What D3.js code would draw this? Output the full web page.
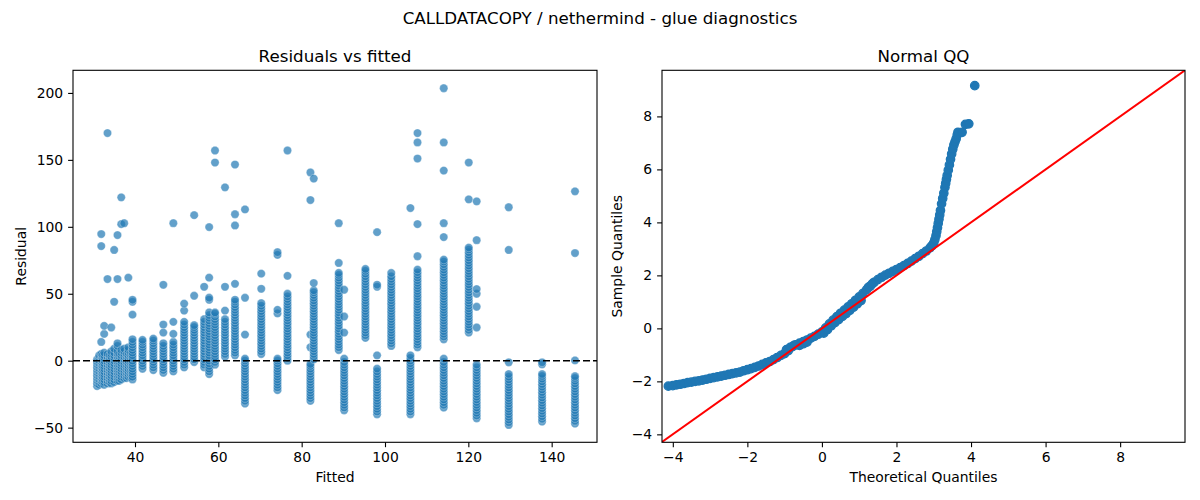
<!DOCTYPE html>
<html><head><meta charset="utf-8">
<script src="https://cdn.jsdelivr.net/npm/d3@7"></script>
<style>
body{margin:0;background:#fff}
text{font-family:"DejaVu Sans",sans-serif;fill:#000}
</style>
</head><body>
<svg id="c" width="1200" height="500"></svg>
<script>
// ---------- data ----------
const fittedLevels = [30.9,31.4,31.9,32.2,32.6,33.4,33.9,34.3,35.0,35.8,36.2,36.7,37.4,38.0,38.4,39.0,39.4,41.8,44.4,46.8,49.2,51.8,54.2,56.6,57.8,59.2,61.6,64.0,66.4,70.3,74.2,76.6,82.1,82.9,88.9,90.2,95.3,98.1,101.5,106.1,107.8,114.1,120.1,122.0,129.7,137.7,145.6];
const residualsByLevel = [
  [-19,-17,-15,-13,-11,-9,-7,-5,-3,-1,1],
  [-18,-16,-14,-12,-10,-8,-6,-4,-2,0,2,4],
  [-17,-15,-13,-11,-9,-7,-5,-3,-1,1,3,5,14,85.6,94.6],
  [-16,-14,-12,-10,-8,-6,-4,-2,0,2,4],
  [-18,-16,-14,-12,-10,-8,-6,-4,-2,0,2,4,6,20,26],
  [-17,-15,-13,-11,-9,-7,-5,-3,-1,1,3,5,61,170],
  [-16,-14,-12,-10,-8,-6,-4,-2,0,2,4],
  [-17,-15,-13,-11,-9,-7,-5,-3,-1,1,3,5,7,24.8],
  [-16,-14,-12,-10,-8,-6,-4,-2,0,2,4,6,9,44,82.7],
  [-15,-13,-11,-9,-7,-5,-3,-1,1,3,5,7,11,13,61,93.8],
  [-15,-13,-11,-9,-7,-5,-3,-1,1,3,5],
  [-14,-12,-10,-8,-6,-4,-2,0,2,4,6,8,102,122],
  [-13,-11,-9,-7,-5,-3,-1,1,3,5,7,9,102.7],
  [-13,-11,-9,-7,-5,-3,-1,1,3,5],
  [-12,-10,-8,-6,-4,-2,0,2,4,6,8,10,62],
  [-12,-10,-8,-6,-4,-2,0,2,4,6],
  [-14,-12,-10,-8,-6,-4,-2,0,2,4,6,8,10,12,14,16,34.4,44,45.5],
  [-6,-4,-2,0,2,4,6,8,10,12,14,15.5],
  [-7,-5,-3,-1,1,3,5,7,9,11,13,15,16.5],
  [-9,-7,-5,-3,-1,1,3,5,7,9,11,13,21,27,56.7],
  [-8,-6,-4,-2,0,2,4,6,8,10,12,14,20,29,102.7],
  [-5,-3,-1,1,3,5,7,9,11,13,15,17,19,21,23,25,27,29,37.4,42.6],
  [-1,1,3,5,7,9,11,13,15,17,19,21,23,25,26.5,48.5,108.7],
  [-5,-3,-1,1,3,5,7,9,11,13,15,17,19,21,23,25,27,29,31,55.2],
  [-10,-8,-6,-4,-2,0,2,4,6,8,10,12,14,16,18,20,22,24,26,28,30,32,34,36,45.5,47,62,99.8],
  [-3,-1,1,3,5,7,9,11,13,15,17,19,21,23,25,27,29,31,33,35,36,148,157],
  [3,5,7,9,11,13,15,17,19,21,23,25,27,29,31,37.4,55.2,129.5],
  [4,6,8,10,12,14,16,18,20,22,24,26,28,30,32,34,36,38,40,42,44,45.5,57.4,101,109.4,146.5],
  [-32,-30,-28,-26,-24,-22,-20,-18,-16,-14,-12,-10,-8,-6,-4,-2,0,1.5,19.5,47,113],
  [5,7,9,11,13,15,17,19,21,23,25,27,29,31,33,35,37,39,41,43,53.7,65],
  [-22,-20,-18,-16,-14,-12,-10,-8,-6,-4,-2,0,1.5,35.3,38,79,81],
  [0,2,4,6,8,10,12,14,16,18,20,22,24,26,28,30,32,34,36,38,40,42,44,46,48,50,63.4,157],
  [-30,-28,-26,-24,-22,-20,-18,-16,-14,-12,-10,-8,-6,-4,-2.5,10,19.5,120,140.6],
  [1,3,5,7,9,11,13,15,17,19,21,23,25,27,29,31,33,35,37,39,41,43,45,47,49,51,52.5,58,136],
  [8,10,12,14,16,18,20,22,24,26,28,30,32,34,36,38,40,42,44,46,48,50,52,54,56,58,60,62,64,65.5,73,102.7],
  [-37,-35,-33,-31,-29,-27,-25,-23,-21,-19,-17,-15,-13,-11,-9,-7,-5,-3,-1,1.5,21,33,53],
  [17,19,21,23,25,27,29,31,33,35,37,39,41,43,45,47,49,51,53,55,57,59,61,63,65,67,68.5],
  [-40,-38,-36,-34,-32,-30,-28,-26,-24,-22,-20,-18,-16,-14,-12,-10,-8,-6,4,55.2,56.7,96],
  [11,13,15,17,19,21,23,25,27,29,31,33,35,37,39,41,43,45,47,49,51,53,55,57,59,61,63,65.5],
  [-40,-38,-36,-34,-32,-30,-28,-26,-24,-22,-20,-18,-16,-14,-12,-10,-8,-6,-4,-2,0,2,4,114],
  [10,12,14,16,18,20,22,24,26,28,30,32,34,36,38,40,42,44,46,48,50,52,54,56,58,60,62,64,66,68,78,102,151,163,170],
  [-35,-33,-31,-29,-27,-25,-23,-21,-19,-17,-15,-13,-11,-9,-7,-5,-3,-1,1.5,16,18,20,22,24,26,28,30,32,34,36,38,40,42,44,46,48,50,52,54,56,58,60,62,64,66,68,70,72,74,75.5,92.3,102.7,142,163,203.5],
  [21,23,25,27,29,31,33,35,37,39,41,43,45,47,49,51,53,55,57,59,61,63,65,67,69,71,73,75,77,79,81,83,84.5,120.5,148],
  [-43,-41,-39,-37,-35,-33,-31,-29,-27,-25,-23,-21,-19,-17,-15,-13,-11,-9,-7,-5,-3,24.8,40.3,50,53.5,90,119],
  [-48,-46,-44,-42,-40,-38,-36,-34,-32,-30,-28,-26,-24,-22,-20,-18,-16,-14,-12,-10,-1.2,82.7,114.6],
  [-45.5,-43.5,-41.5,-39.5,-37.5,-35.5,-33.5,-31.5,-29.5,-27.5,-25.5,-23.5,-21.5,-19.5,-17.5,-15.5,-13.5,-11.5,-10,-2.7,-1.2],
  [-47,-45,-43,-41,-39,-37,-35,-33,-31,-29,-27,-25,-23,-21,-19,-17,-15,-13,-11.6,0.2,80.4,126.5]
];
const qqTheoretical = [-4.12,-4.0,-3.9,-3.8,-3.7,-3.6,-3.5,-3.4,-3.3,-3.2,-3.1,-3.0,-2.9,-2.8,-2.7,-2.6,-2.5,-2.4,-2.3,-2.2,-2.1,-2.0,-1.9,-1.8,-1.7,-1.6,-1.5,-1.4,-1.3,-1.2,-1.1,-1.0,-0.9,-0.8,-0.7,-0.6,-0.5,-0.4,-0.3,-0.2,-0.1,0,0.1,0.2,0.3,0.4,0.5,0.6,0.7,0.8,0.9,1.0,1.1,1.2,1.3,1.4,1.5,1.6,1.7,1.8,1.9,2.0,2.1,2.2,2.3,2.4,2.5,2.6,2.7,2.8,2.9,2.95,3.0,3.03,3.06,3.08,3.10,3.12,3.14,3.16,3.18,3.21,3.24,3.27,3.30,3.32,3.34,3.36,3.39,3.42,3.45,3.48,3.51,3.54,3.57,3.60,3.63,3.65,3.76,3.85,3.94,4.10,
  -0.95,-0.85,-0.75,-0.6,-0.5,-0.4,0.05,0.15,0.25,0.35,0.45,0.55,0.65,0.75,0.85,0.95,1.05,1.25,1.35];
const qqSample = [-2.18,-2.16,-2.13,-2.11,-2.08,-2.05,-2.03,-2.00,-1.98,-1.95,-1.92,-1.89,-1.86,-1.83,-1.80,-1.77,-1.74,-1.71,-1.68,-1.65,-1.60,-1.56,-1.52,-1.47,-1.42,-1.36,-1.30,-1.25,-1.18,-1.10,-1.02,-0.95,-0.84,-0.70,-0.62,-0.56,-0.50,-0.44,-0.37,-0.30,-0.22,-0.13,0.02,0.17,0.31,0.44,0.57,0.69,0.81,0.93,1.06,1.19,1.32,1.46,1.60,1.74,1.84,1.93,2.01,2.08,2.15,2.22,2.29,2.37,2.45,2.54,2.63,2.72,2.82,2.92,3.04,3.12,3.22,3.35,3.50,3.65,3.80,3.96,4.12,4.28,4.45,4.70,4.90,5.10,5.32,5.47,5.62,5.77,5.97,6.17,6.38,6.58,6.76,6.92,7.04,7.15,7.30,7.40,7.40,7.70,7.72,9.16,
  -0.80,-0.72,-0.64,-0.64,-0.58,-0.52,-0.18,-0.05,0.10,0.22,0.33,0.45,0.56,0.68,0.80,0.93,1.05,1.55,1.68];
const leftXTicks = [40,60,80,100,120,140];
const leftYTicks = [-50,0,50,100,150,200];
const qqTicks = [-4,-2,0,2,4,6,8];
const suptitle = "CALLDATACOPY / nethermind - glue diagnostics";

// ---------- layout ----------
const C0 = "#1f77b4";
const TICK = 4.9, PAD = 4.9, FS = 13.9;
const svg = d3.select("#c");
svg.append("rect").attr("width",1200).attr("height",500).attr("fill","#fff");

const L = {x0:73, x1:597, y0:70.3, y1:442.3};
const R = {x0:662, x1:1185, y0:70.3, y1:442.3};

const xL = d3.scaleLinear().domain([25.12,150.88]).range([L.x0,L.x1]);
const yL = d3.scaleLinear().domain([-60.95,216.9]).range([L.y1,L.y0]);
const xR = d3.scaleLinear().domain([-4.29,9.74]).range([R.x0,R.x1]);
const yR = d3.scaleLinear().domain([-4.30,9.74]).range([R.y1,R.y0]);

const defs = svg.append("defs");
[["clipL",L],["clipR",R]].forEach(([id,b])=>{
  defs.append("clipPath").attr("id",id).append("rect")
    .attr("x",b.x0).attr("y",b.y0).attr("width",b.x1-b.x0).attr("height",b.y1-b.y0);
});

const fmt = d3.format("d");

function axes(b, xs, ys, xt, yt){
  const gx = svg.append("g").attr("transform",`translate(0,${b.y1})`)
    .call(d3.axisBottom(xs).tickValues(xt).tickSize(TICK).tickPadding(PAD).tickFormat(fmt));
  const gy = svg.append("g").attr("transform",`translate(${b.x0},0)`)
    .call(d3.axisLeft(ys).tickValues(yt).tickSize(TICK).tickPadding(PAD).tickFormat(fmt));
  [gx,gy].forEach(g=>{
    g.select(".domain").remove();
    g.selectAll("line").attr("stroke","#000").attr("stroke-width",1.1);
    g.selectAll("text").attr("font-size",FS).attr("font-family","DejaVu Sans").attr("fill","#000");
  });
  svg.append("rect").attr("x",b.x0).attr("y",b.y0).attr("width",b.x1-b.x0).attr("height",b.y1-b.y0)
    .attr("fill","none").attr("stroke","#000").attr("stroke-width",1.1);
}

// ---------- left: residuals vs fitted ----------
const pts = [];
fittedLevels.forEach((f,i)=>residualsByLevel[i].forEach(r=>pts.push([f,r])));
const gL = svg.append("g").attr("clip-path","url(#clipL)");
gL.selectAll("circle").data(pts).enter().append("circle")
  .attr("cx",d=>xL(d[0])).attr("cy",d=>yL(d[1])).attr("r",4.15)
  .attr("fill",C0).attr("fill-opacity",0.7)
  .attr("stroke","#fff").attr("stroke-opacity",0.6).attr("stroke-width",0.5);
gL.append("line").attr("x1",L.x0).attr("x2",L.x1).attr("y1",yL(0)).attr("y2",yL(0))
  .attr("stroke","#000").attr("stroke-width",1.4).attr("stroke-dasharray","7,3");
axes(L,xL,yL,leftXTicks,leftYTicks);

// ---------- right: normal QQ ----------
const qq = qqTheoretical.map((t,i)=>[t,qqSample[i]]);
const gR = svg.append("g").attr("clip-path","url(#clipR)");
gR.selectAll("circle").data(qq).enter().append("circle")
  .attr("cx",d=>xR(d[0])).attr("cy",d=>yR(d[1])).attr("r",4.2)
  .attr("fill",C0).attr("stroke",C0).attr("stroke-width",1.3);
const lim = xR.domain();
gR.append("line").attr("x1",xR(lim[0])).attr("y1",yR(lim[0])).attr("x2",xR(lim[1])).attr("y2",yR(lim[1]))
  .attr("stroke","red").attr("stroke-width",2);
axes(R,xR,yR,qqTicks,qqTicks);

// ---------- titles and labels ----------
function txt(x,y,s,size,anchor,rot){
  const t = svg.append("text").attr("x",x).attr("y",y).attr("font-size",size)
    .attr("text-anchor",anchor||"middle").text(s);
  if(rot) t.attr("transform",`rotate(${rot},${x},${y})`);
  return t;
}
txt(600,24,suptitle,16.7);
txt((L.x0+L.x1)/2,62,"Residuals vs fitted",16.7);
txt((R.x0+R.x1)/2,62,"Normal QQ",16.7);
txt((L.x0+L.x1)/2,482,"Fitted",FS);
txt((R.x0+R.x1)/2,482,"Theoretical Quantiles",FS);
txt(26.5,(L.y0+L.y1)/2,"Residual",FS,"middle",-90);
txt(622.5,(R.y0+R.y1)/2,"Sample Quantiles",FS,"middle",-90);
</script>
</body></html>
